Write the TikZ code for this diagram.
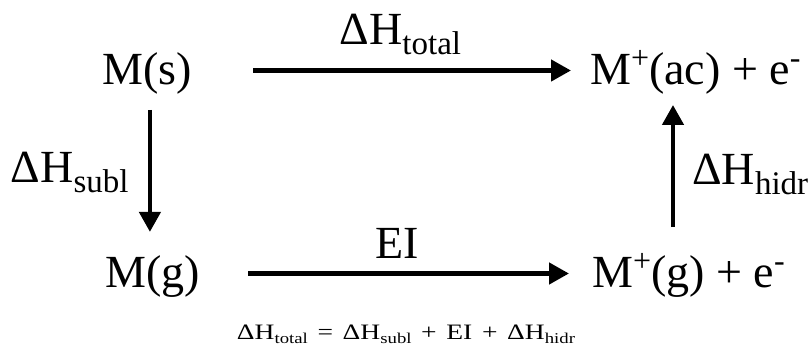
\documentclass[tikz,border=0pt]{standalone}
\usepackage{fontspec}
\setmainfont{Liberation Serif}
\usetikzlibrary{arrows.meta,positioning}
\tikzset{
  species/.style = {inner sep=0pt, anchor=base west,
                    font=\fontsize{46}{50}\selectfont},
  elab/.style    = {inner sep=0pt, font=\fontsize{46}{50}\selectfont},
  arr/.style     = {-{Triangle[length=20pt,width=21pt]}, draw=black,
                    line width=4.5pt},
  eqn/.style     = {inner sep=0pt, anchor=base, font=\fontsize{22}{24}\selectfont},
}
\newcommand{\sups}[1]{\raisebox{0.36em}{\fontsize{32}{32}\selectfont #1}}
\newcommand{\dH}[1]{ΔH\raisebox{-0.22em}{\fontsize{33}{33}\selectfont #1}}
\newcommand{\dHe}[1]{ΔH\raisebox{-0.15em}{\fontsize{15}{15}\selectfont #1}}
\newcommand{\gap}{\hspace{0.35em}}
\begin{document}
\begin{tikzpicture}[x=1pt,y=-1pt]
  \useasboundingbox (0,0) rectangle (809,352);
  % corners of the cycle
  \node[species] (ms)  at (102,85)  {M(s)};
  \node[species] (mac) at (590,85)  {M\sups{+}(ac) + e\sups{-}};
  \node[species] (mg)  at (105,288) {M(g)};
  \node[species] (mpg) at (592,288) {M\sups{+}(g) + e\sups{-}};
  % steps
  \draw[arr, shorten <=61.5pt, shorten >=19pt] ([yshift=14.5pt]ms.base east) --
    node[elab, anchor=base, xshift=9.5pt, yshift=26pt] (ltot) {\dH{total}}
    ([yshift=14.5pt]mac.base west);
  \draw[arr, shorten <=48.5pt, shorten >=23pt] ([yshift=14.5pt]mg.base east) --
    node[elab, anchor=base, xshift=1pt, yshift=15pt] (lei) {EI}
    ([yshift=14.5pt]mpg.base west);
  \draw[arr, shorten <=15pt, shorten >=24pt] ([xshift=3pt]ms.south) --
    node[elab, anchor=base east, xshift=-19pt, yshift=-7pt] (lsub) {\dH{subl}}
    ([xshift=3pt]ms.south |- mg.north);
  \draw[arr, shorten <=26pt, shorten >=10pt] ([xshift=81pt]mpg.north west) --
    node[elab, anchor=base west, xshift=17pt, yshift=-10pt] (lhid) {\dH{hidr}}
    ([xshift=81pt]mpg.north west |- mac.south);
  % balance
  \node[eqn] (bal) at (406,340)
    {\resizebox{338pt}{\height}{\dHe{total}\gap=\gap\dHe{subl}\gap+\gap EI\gap+\gap\dHe{hidr}}};
\end{tikzpicture}
\end{document}
